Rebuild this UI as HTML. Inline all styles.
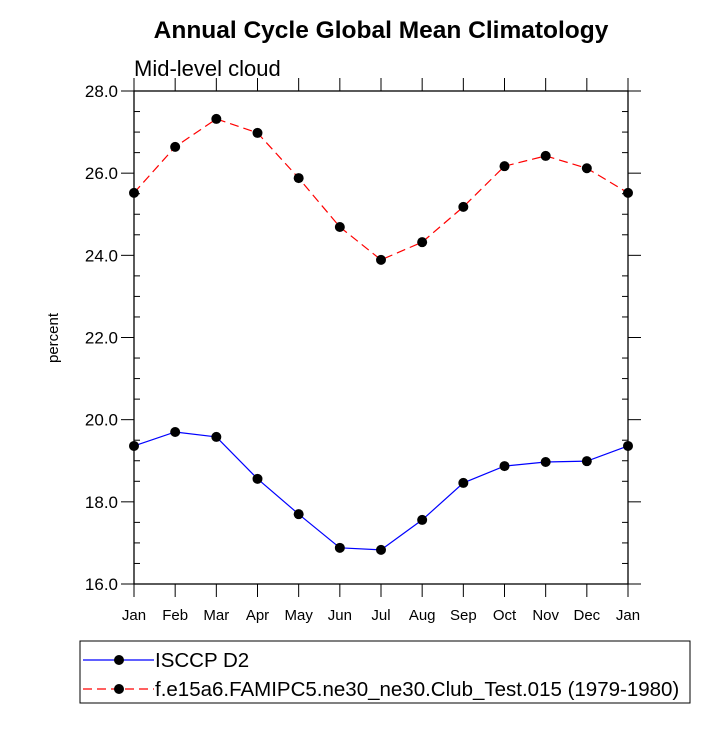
<!DOCTYPE html>
<html><head><meta charset="utf-8"><style>body{margin:0;background:#fff}svg text{font-family:"Liberation Sans",sans-serif}</style></head>
<body>
<svg id="c" width="727" height="727" xmlns="http://www.w3.org/2000/svg">
<text x="381" y="38" text-anchor="middle" font-size="24.5" font-weight="bold">Annual Cycle Global Mean Climatology</text>
<text x="134" y="76" font-size="22">Mid-level cloud</text>
<text transform="translate(58,338) rotate(-90)" text-anchor="middle" font-size="15">percent</text>
<g id="axes"></g><g id="series"></g>
<rect x="80" y="641" width="610" height="62" fill="none" stroke="#000" stroke-width="1"/>
<g>
<line x1="83" y1="660" x2="154" y2="660" stroke="#00f" stroke-width="1.2"/><circle cx="119" cy="660" r="5"/>
<text x="155" y="667" font-size="20.5">ISCCP D2</text></g>
<g>
<line x1="83" y1="689" x2="154" y2="689" stroke="#f00" stroke-width="1.2" stroke-dasharray="9,5"/><circle cx="119" cy="689" r="5"/>
<text x="155" y="696" font-size="20.5">f.e15a6.FAMIPC5.ne30_ne30.Club_Test.015 (1979-1980)</text></g>
</svg>
<script>
const months=["Jan","Feb","Mar","Apr","May","Jun","Jul","Aug","Sep","Oct","Nov","Dec","Jan"];
const obsValues=[19.36,19.70,19.58,18.56,17.70,16.88,16.83,17.56,18.46,18.87,18.97,18.99,19.36];
const modelValues=[25.52,26.64,27.32,26.98,25.88,24.69,23.89,24.32,25.18,26.17,26.42,26.12,25.52];
const yTicks=[16,18,20,22,24,26,28];
const L=134,R=628,T=91,B=584,ymin=16,ymax=28;
const NS="http://www.w3.org/2000/svg";
const X=i=>L+(R-L)*i/(months.length-1);
const Y=v=>B-(B-T)*(v-ymin)/(ymax-ymin);
function mk(t,a,p){const e=document.createElementNS(NS,t);for(const k in a)e.setAttribute(k,a[k]);p.appendChild(e);return e;}
const ax=document.getElementById('axes');
const fr=mk('rect',{x:L,y:T,width:R-L,height:B-T,fill:'none',stroke:'#000','stroke-width':1.3},ax);


for(let v=ymin;v<=ymax+1e-9;v+=0.5){const y=Y(v);const major=Math.abs(v%2)<1e-9;
 if(major){mk('line',{x1:L-13,y1:y,x2:L,y2:y,stroke:'#000'},ax);mk('line',{x1:R,y1:y,x2:R+13,y2:y,stroke:'#000'},ax);}
 else{mk('line',{x1:L,y1:y,x2:L+6,y2:y,stroke:'#000'},ax);mk('line',{x1:R-6,y1:y,x2:R,y2:y,stroke:'#000'},ax);}}
yTicks.forEach(v=>{const t=mk('text',{x:L-16,y:Y(v)+6,'text-anchor':'end','font-size':17},ax);t.textContent=v.toFixed(1);

});
months.forEach((m,i)=>{const x=X(i);mk('line',{x1:x,y1:B,x2:x,y2:B+13,stroke:'#000'},ax);mk('line',{x1:x,y1:T-13,x2:x,y2:T,stroke:'#000'},ax);
const t=mk('text',{x:x,y:B+36,'text-anchor':'middle','font-size':15},ax);t.textContent=m;

});
const sg=document.getElementById('series');
function series(vals,col,dash,name){const g=mk('g',{},sg);


const a={points:vals.map((v,i)=>X(i)+','+Y(v)).join(' '),fill:'none',stroke:col,'stroke-width':1.2};if(dash)a['stroke-dasharray']=dash;mk('polyline',a,g);
vals.forEach((v,i)=>{const c=mk('circle',{cx:X(i),cy:Y(v),r:5},g);

});}
series(obsValues,'#00f',null,'series-isccp');
series(modelValues,'#f00','9,5','series-model');
</script>
</body></html>
